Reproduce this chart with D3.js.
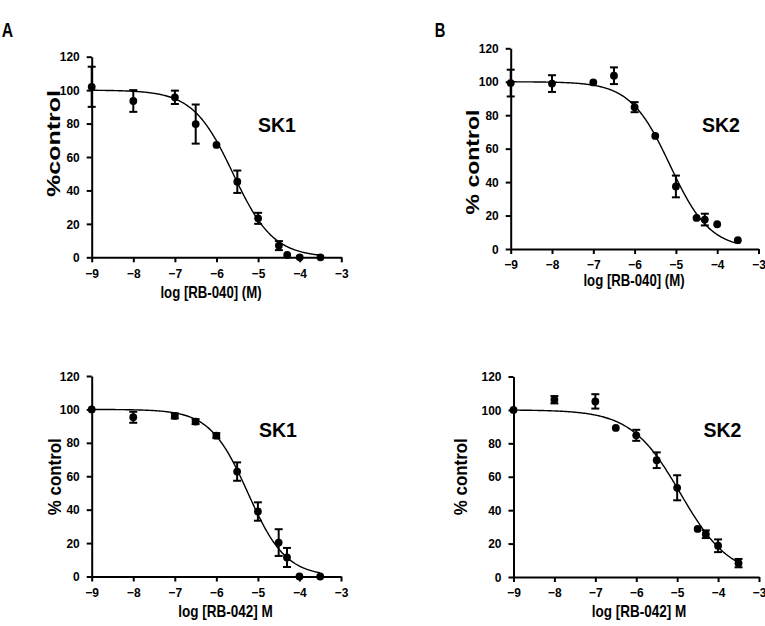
<!DOCTYPE html>
<html>
<head>
<meta charset="utf-8">
<script src="https://cdn.jsdelivr.net/npm/d3@7"></script>
<style>
  html, body { margin: 0; padding: 0; background: #fff; }
  svg { display: block; }
  text { font-family: "Liberation Sans", Arial, sans-serif; font-weight: bold; fill: #000; }
</style>
</head>
<body>
<svg id="chart" width="765" height="626"></svg>
<script>
// ---------- data ----------
const xTicks = [-9, -8, -7, -6, -5, -4, -3];
const yTicks = [0, 20, 40, 60, 80, 100, 120];
const logConc = [-9, -8, -7, -6.5, -6, -5.5, -5, -4.5, -4.3, -4, -3.5];

const sk1_040     = [102, 93.5, 95.7, 79.7, 67.2, 45.2, 23.3, 7.0, 1.4, 0, 0];
const sk1_040_err = [12, 6.5, 4, 11.7, 0, 6.7, 3.3, 2.7, 0, 0, 0];
const sk2_040     = [99.2, 98.9, 99.6, 103.6, 84.8, 67.6, 37.4, 18.6, 17.6, 14.8, 5.3];
const sk2_040_err = [8, 5, 0, 5, 3, 0, 6.5, 0, 3.5, 0, 0];
const sk1_042     = [100, 95.3, 96.1, 92.7, 84.3, 62.8, 38.9, 20.3, 11.4, 0, 0];
const sk1_042_err = [0, 3.3, 1.5, 1.5, 1.5, 5.5, 5.5, 8, 5.7, 0, 0];
const sk2_042     = [100, 106.1, 105.1, 89.2, 84.8, 69.9, 53.4, 28.8, 25.6, 18.7, 8.3];
const sk2_042_err = [0, 2.2, 4.3, 0, 3.3, 4.7, 7.5, 0, 2.3, 3.8, 2.5];

// sigmoid fit parameters (top, bottom, logIC50, hill) per panel
const fitTop = [100, 100, 100, 100];
const fitBottom = [0, 0, 0, 0];
const fitLogIC50 = [-5.6, -5.14, -5.24, -4.92];
const fitHill = [0.9, 0.9, 0.95, 0.72];

const cellLabels = ["SK1", "SK2", "SK1", "SK2"];
const yTitles = ["%control", "% control", "% control", "% control"];
const xTitles = ["log [RB-040] (M)", "log [RB-040] (M)", "log [RB-042] M", "log [RB-042] M"];
const panelLetters = ["A", "B"];

const seriesVals = [sk1_040, sk2_040, sk1_042, sk2_042];
const seriesErr = [sk1_040_err, sk2_040_err, sk1_042_err, sk2_042_err];

// ---------- layout ----------
const panels = [
  { x0: 91.7, x1: 341.3, y0: 257.3, y1: 56.7, sk: [277, 132], yt: [53.8, 143.5, 18, 1.39], xt: [211, 298] },
  { x0: 510.7, x1: 758.5, y0: 249, y1: 48.3, sk: [721, 132], yt: [472.5, 162, 18, 1.28], xt: [634, 285.5] },
  { x0: 91.7, x1: 341, y0: 576.5, y1: 376, sk: [278, 437], yt: [54, 476.7, 18, 0.94], xt: [225.5, 617] },
  { x0: 513.5, x1: 759, y0: 577, y1: 376.5, sk: [722.5, 437], yt: [460.8, 476.7, 18, 0.94], xt: [639, 617] }
];

const svg = d3.select("#chart");

function label(g, txt, x, y, size, sx, rot, anchor) {
  return g.append("text")
    .attr("transform", `translate(${x},${y}) rotate(${rot || 0}) scale(${sx},1)`)
    .attr("text-anchor", anchor || "middle")
    .style("font-size", size + "px")
    .text(txt);
}

// panel letters
label(svg, panelLetters[0], 7.5, 37.3, 21, 0.75, 0, "middle");
label(svg, panelLetters[1], 440, 36.7, 21, 0.7, 0, "middle");

panels.forEach((p, i) => {
  const g = svg.append("g");
  const x = d3.scaleLinear().domain([-9, -3]).range([p.x0, p.x1]);
  const y = d3.scaleLinear().domain([0, 120]).range([p.y0, p.y1]);

  const xa = g.append("g").attr("transform", `translate(0,${p.y0})`)
    .call(d3.axisBottom(x).tickValues(xTicks).tickFormat(d3.format("d")).tickSizeInner(5).tickSizeOuter(0).tickPadding(6));
  const ya = g.append("g").attr("transform", `translate(${p.x0},0)`)
    .call(d3.axisLeft(y).tickValues(yTicks).tickSizeInner(5).tickSizeOuter(0).tickPadding(7));

  [xa, ya].forEach(a => {
    a.select(".domain").attr("stroke", "#000").attr("stroke-width", 2);
    a.selectAll(".tick line").attr("stroke", "#000").attr("stroke-width", 2);
    a.selectAll(".tick text").style("font-size", "13px").attr("font-family", null).attr("fill", "#000");
  });
  xa.selectAll(".tick text").attr("transform", "scale(0.92,1)");
  ya.selectAll(".tick text").attr("x", -12 / 0.92).attr("transform", "scale(0.92,1)");

  // fitted curve
  const curveX = d3.range(-9, -3.5 + 1e-9, 0.02);
  const f = xv => fitBottom[i] + (fitTop[i] - fitBottom[i]) / (1 + Math.pow(10, (xv - fitLogIC50[i]) * fitHill[i]));
  g.append("path")
    .datum(curveX)
    .attr("fill", "none").attr("stroke", "#000").attr("stroke-width", 1.4)
    .attr("d", d3.line().x(d => x(d)).y(d => y(f(d))));

  // error bars
  const vals = seriesVals[i], errs = seriesErr[i];
  const pts = logConc.map((c, k) => ({ c, v: vals[k], e: errs[k] }));
  const eb = g.append("g").attr("stroke", "#000").attr("stroke-width", 2);
  pts.filter(d => d.e > 0).forEach(d => {
    eb.append("line").attr("x1", x(d.c)).attr("x2", x(d.c)).attr("y1", y(d.v + d.e)).attr("y2", y(d.v - d.e));
    eb.append("line").attr("x1", x(d.c) - 4).attr("x2", x(d.c) + 4).attr("y1", y(d.v + d.e)).attr("y2", y(d.v + d.e));
    eb.append("line").attr("x1", x(d.c) - 4).attr("x2", x(d.c) + 4).attr("y1", y(d.v - d.e)).attr("y2", y(d.v - d.e));
  });

  // points
  g.append("g").selectAll("circle").data(pts).join("circle")
    .attr("cx", d => x(d.c)).attr("cy", d => y(d.v)).attr("r", 3.9).attr("fill", "#000");

  // labels
  label(g, cellLabels[i], p.sk[0], p.sk[1], 19.5, 1, 0, "middle");
  label(g, yTitles[i], p.yt[0] + 6.5, p.yt[1], p.yt[2], p.yt[3], -90, "middle");
  label(g, xTitles[i], p.xt[0], p.xt[1], 16.5, i < 2 ? 0.8 : 0.82, 0, "middle");
});
</script>
</body>
</html>
